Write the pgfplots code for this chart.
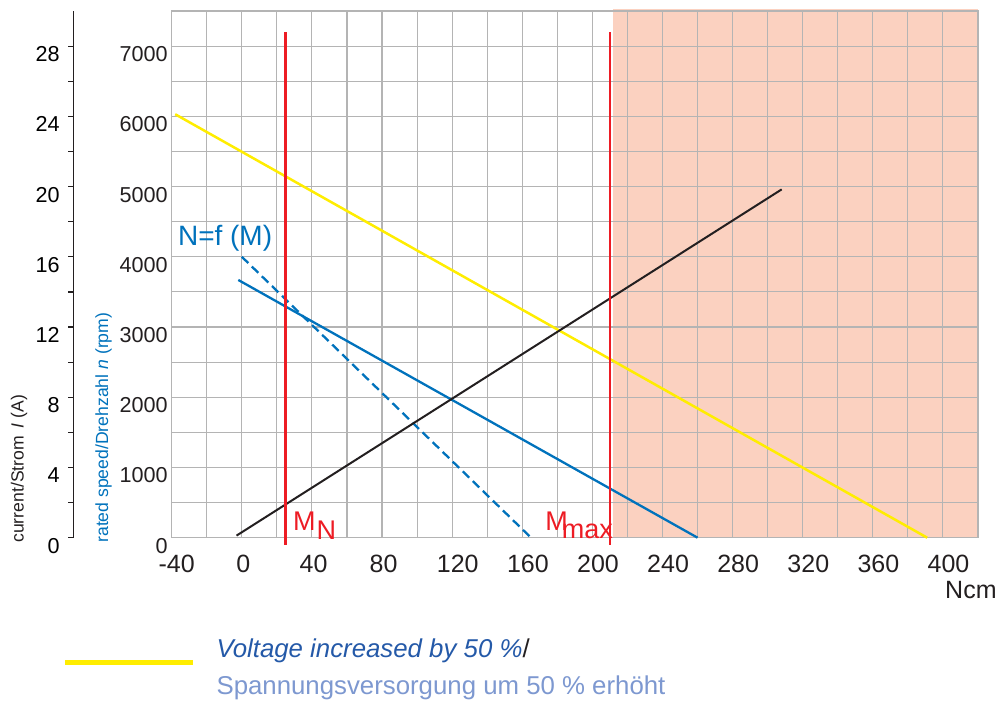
\documentclass[border=0pt]{standalone}
\usepackage{fontspec}
\setmainfont{Liberation Sans}
\usepackage{pgfplots}
\pgfplotsset{compat=1.18}
\definecolor{blueC}{RGB}{0,114,188}
\definecolor{yellowC}{RGB}{255,237,0}
\definecolor{redC}{RGB}{237,28,36}
\definecolor{peachC}{RGB}{251,209,192}
\definecolor{blackC}{RGB}{35,31,32}
\definecolor{gridC}{RGB}{180,180,180}
\definecolor{legA}{RGB}{36,89,168}
\definecolor{legB}{RGB}{125,152,208}
\begin{document}
\begin{tikzpicture}
% current axis (A)
\begin{axis}[
  at={(36.85pt,82.15pt)}, anchor=south west,
  scale only axis, width=2pt, height=263.35pt,
  xmin=0, xmax=1, ymin=0, ymax=30,
  axis x line=none, axis y line=left,
  y axis line style={-, draw=blackC, line width=0.6pt},
  ytick={0,4,...,28}, minor ytick={2,6,...,26},
  yticklabels={0,4,8,12,16,20,24,28},
  tick align=outside, major tick length=2.65pt, minor tick length=2.65pt,
  tick style={draw=blackC, line width=0.6pt},
  yticklabel style={font=\fontsize{10.8}{12}\selectfont, anchor=east, inner sep=0pt, xshift=-4.2pt, yshift=-4pt},
  ylabel={current/Strom \,\textit{I} (A)},
  ylabel style={at={(axis description cs:-13.675,-0.0101)}, anchor=west, rotate=0, inner sep=0pt, font=\fontsize{8.8}{10}\selectfont, text=blackC},
]
\end{axis}
% main axis
\begin{axis}[
  set layers,
  at={(85.85pt,82.15pt)}, anchor=south west,
  scale only axis, width=403.15pt, height=263.35pt,
  xmin=-40, xmax=420, ymin=0, ymax=7500,
  xtick={-40,0,40,80,120,160,200,240,280,320,360,400},
  minor xtick={-20,20,...,420},
  xticklabels={\kern5pt-40,\kern1.6pt0,\kern1.6pt40,\kern1.6pt80,\kern5.6pt120,\kern5.6pt160,\kern5.6pt200,\kern5.6pt240,\kern5.6pt280,\kern5.6pt320,\kern5.6pt360,\kern5.6pt400},
  ytick={0,1000,2000,3000,4000,5000,6000,7000},
  minor ytick={500,1500,...,7500},
  yticklabels={0,1000,2000,3000,4000,5000,6000,7000},
  grid=both,
  grid style={draw=gridC, line width=0.55pt},
  major grid style={draw=gridC, line width=0.55pt},
  minor grid style={draw=gridC, line width=0.55pt},
  tick style={draw=none},
  axis line style={draw=gridC, line width=0.55pt},
  clip=false,
  xticklabel style={font=\fontsize{12.5}{14}\selectfont, anchor=north, inner sep=0pt, yshift=-8.65pt, text=blackC},
  yticklabel style={font=\fontsize{10.8}{12}\selectfont, anchor=east, inner sep=0pt, xshift=-1.85pt, yshift=-4pt, text=blackC},
  xlabel={Ncm},
  xlabel style={at={(axis description cs:1,0)}, anchor=base east, inner sep=0pt, xshift=9.5pt, yshift=-30.15pt, font=\fontsize{12.5}{14}\selectfont, text=blackC},
  ylabel={rated speed/Drehzahl \textit{n} (rpm)},
  ylabel style={at={(axis description cs:-0.0846,-0.0101)}, anchor=west, rotate=0, inner sep=0pt, font=\fontsize{8.8}{10}\selectfont, text=blueC},
  legend style={at={(axis description cs:-0.13537,-0.17908)}, anchor=north west, draw=none, fill=none, inner sep=0pt, outer sep=0pt, nodes={inner sep=0pt}, column sep=10.5pt, font=\fontsize{12.9}{18.5}\selectfont},
  legend cell align=left,
]
\addplot[draw=none, fill=peachC, forget plot, on layer=axis background] coordinates {(212,0) (420,0) (420,7530) (212,7530)} -- cycle;
\addplot[yellowC, line width=1.25pt, legend image code/.code={\draw[yellowC, line width=2.5pt] (0pt,-8pt) -- (64pt,-8pt);}] coordinates {(-38,6030) (391,0)};
\addlegendentry{\begin{tabular}[t]{@{}l@{}}\textcolor{legA}{\textit{Voltage increased by 50 \%}}\textcolor{blackC}{/}\\ \textcolor{legB}{Spannungsversorgung um 50 \% erhöht}\end{tabular}}
\addplot[blueC, line width=1.15pt, forget plot] coordinates {(-2,3670) (260,0)};
\addplot[blueC, line width=1.15pt, dash pattern=on 4.5pt off 2.5pt, forget plot] coordinates {(0,4000) (165,0)};
\addplot[blackC, line width=1pt, forget plot] coordinates {(-3,30) (308,4960)};
\addplot[redC, line width=1.3pt, forget plot] coordinates {(25,-100) (25,7200)};
\addplot[redC, line width=1.3pt, forget plot] coordinates {(210,-100) (210,7200)};
\node[anchor=base west, text=blueC, font=\fontsize{14}{16}\selectfont, inner sep=0pt] at (axis cs:-36.6,4155) {N=f (M)};
\node[anchor=base west, text=redC, font=\fontsize{13.5}{15}\selectfont, inner sep=0pt] at (axis cs:29,100) {M\kern0.5pt\raisebox{-4.65pt}{N}};
\node[anchor=base west, text=redC, font=\fontsize{13.5}{15}\selectfont, inner sep=0pt] at (axis cs:173,100) {M\kern-3pt\raisebox{-4pt}{max}};
\end{axis}
\pgfresetboundingbox
\path[use as bounding box] (0,0) rectangle (501pt,351pt);
\end{tikzpicture}
\end{document}
